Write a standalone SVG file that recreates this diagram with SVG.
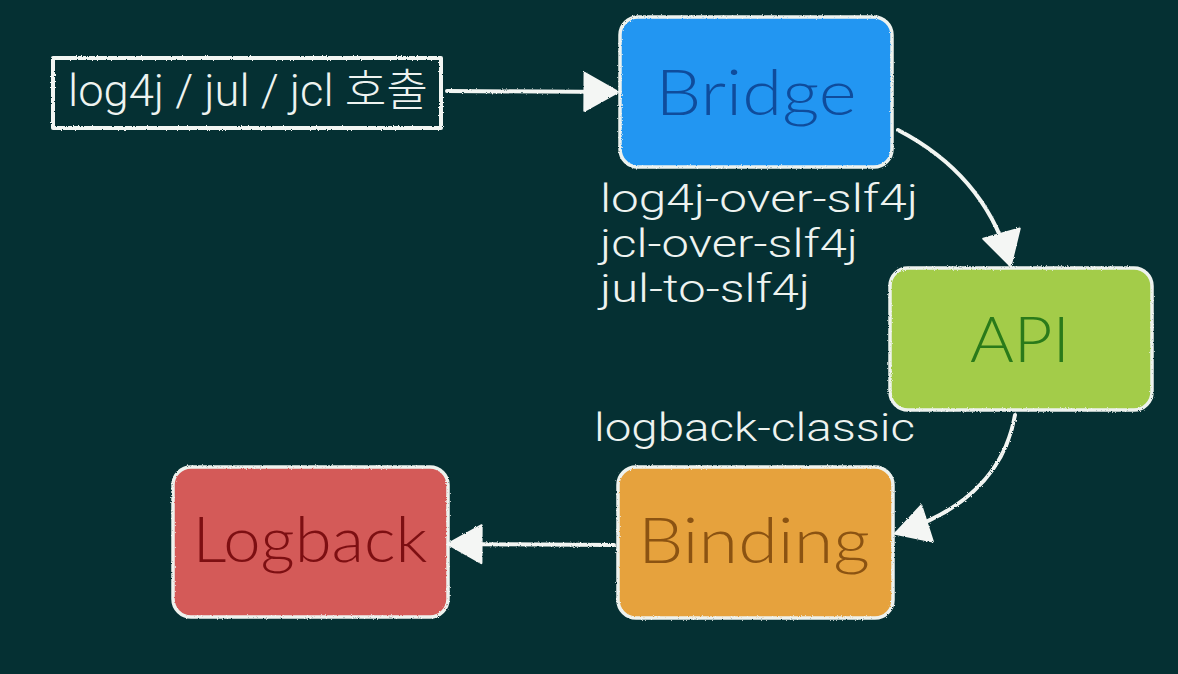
<svg xmlns="http://www.w3.org/2000/svg" width="1178" height="674" viewBox="0 0 1178 674">
<defs>
<style>
.bg{fill:#053033}
.chalk{fill:none;stroke:#f2f5f2;stroke-width:4;stroke-linecap:round;stroke-linejoin:round}
.node{stroke:#eef2ee;stroke-width:3.5}
.ntext{font-family:Lato,"Noto Sans","Liberation Sans",sans-serif;font-weight:300;font-size:64px;text-anchor:middle}
.lbl{font-family:Roboto,"Liberation Sans","Noto Sans CJK KR",sans-serif;font-weight:300;fill:#eef3f0}
.line{fill:none;stroke:#f2f5f2;stroke-width:4;stroke-linecap:round}
.head{fill:#f4f6f4;stroke:#f4f6f4;stroke-width:2;stroke-linejoin:round}
</style>
<filter id="rough" x="-10%" y="-10%" width="120%" height="120%">
<feTurbulence type="fractalNoise" baseFrequency="0.8" numOctaves="2" seed="3" result="n"/>
<feDisplacementMap in="SourceGraphic" in2="n" scale="2.5"/>
</filter>
<marker id="arr" markerUnits="userSpaceOnUse" markerWidth="40" markerHeight="42" viewBox="0 0 36 40" refX="32" refY="20" orient="auto">
<path class="head" d="M2,2 L34,20 L2,38 Z"/>
</marker>
</defs>
<rect class="bg" x="0" y="0" width="1178" height="674"/>

<g id="input">
<rect class="chalk" x="53" y="58" width="388" height="70" filter="url(#rough)"/>
<text class="lbl" x="68" y="106" font-size="44" textLength="360" lengthAdjust="spacingAndGlyphs">log4j / jul / jcl 호출</text>
</g>

<g id="bridge">
<rect class="node" x="620" y="17" width="272" height="150" rx="18" fill="#2396f2" filter="url(#rough)"/>
<text class="ntext" x="756" y="115" fill="#0f4c9c" textLength="201" lengthAdjust="spacingAndGlyphs">Bridge</text>
</g>

<g id="bridge-label">
<text class="lbl" x="600" y="212" font-size="38" textLength="318" lengthAdjust="spacingAndGlyphs">log4j-over-slf4j</text>
<text class="lbl" x="600" y="257" font-size="38" textLength="258" lengthAdjust="spacingAndGlyphs">jcl-over-slf4j</text>
<text class="lbl" x="600" y="302" font-size="38" textLength="210" lengthAdjust="spacingAndGlyphs">jul-to-slf4j</text>
</g>

<g id="api">
<rect class="node" x="890" y="268" width="262" height="142" rx="18" fill="#a3cc48" filter="url(#rough)"/>
<text class="ntext" x="1020" y="362" fill="#2a7a1a" textLength="100" lengthAdjust="spacingAndGlyphs">API</text>
</g>

<g id="binding-label">
<text class="lbl" x="594" y="441" font-size="39" textLength="321" lengthAdjust="spacingAndGlyphs">logback-classic</text>
</g>

<g id="binding">
<rect class="node" x="618" y="467" width="275" height="151" rx="18" fill="#e6a23e" filter="url(#rough)"/>
<text class="ntext" x="754" y="563" fill="#8b5312" textLength="232" lengthAdjust="spacingAndGlyphs">Binding</text>
</g>

<g id="logback">
<rect class="node" x="173" y="467" width="275" height="150" rx="18" fill="#d45a58" filter="url(#rough)"/>
<text class="ntext" x="310" y="562" fill="#7d0f12" textLength="235" lengthAdjust="spacingAndGlyphs">Logback</text>
</g>

<g id="connectors" filter="url(#rough)">
<path class="line" d="M447,91 L616,92" marker-end="url(#arr)"/>
<path class="line" d="M898,130 Q985,175 1010,264" marker-end="url(#arr)"/>
<path class="line" d="M1015,415 Q1000,500 897,533" marker-end="url(#arr)"/>
<path class="line" d="M614,545 L450,544" marker-end="url(#arr)"/>
</g>
</svg>
